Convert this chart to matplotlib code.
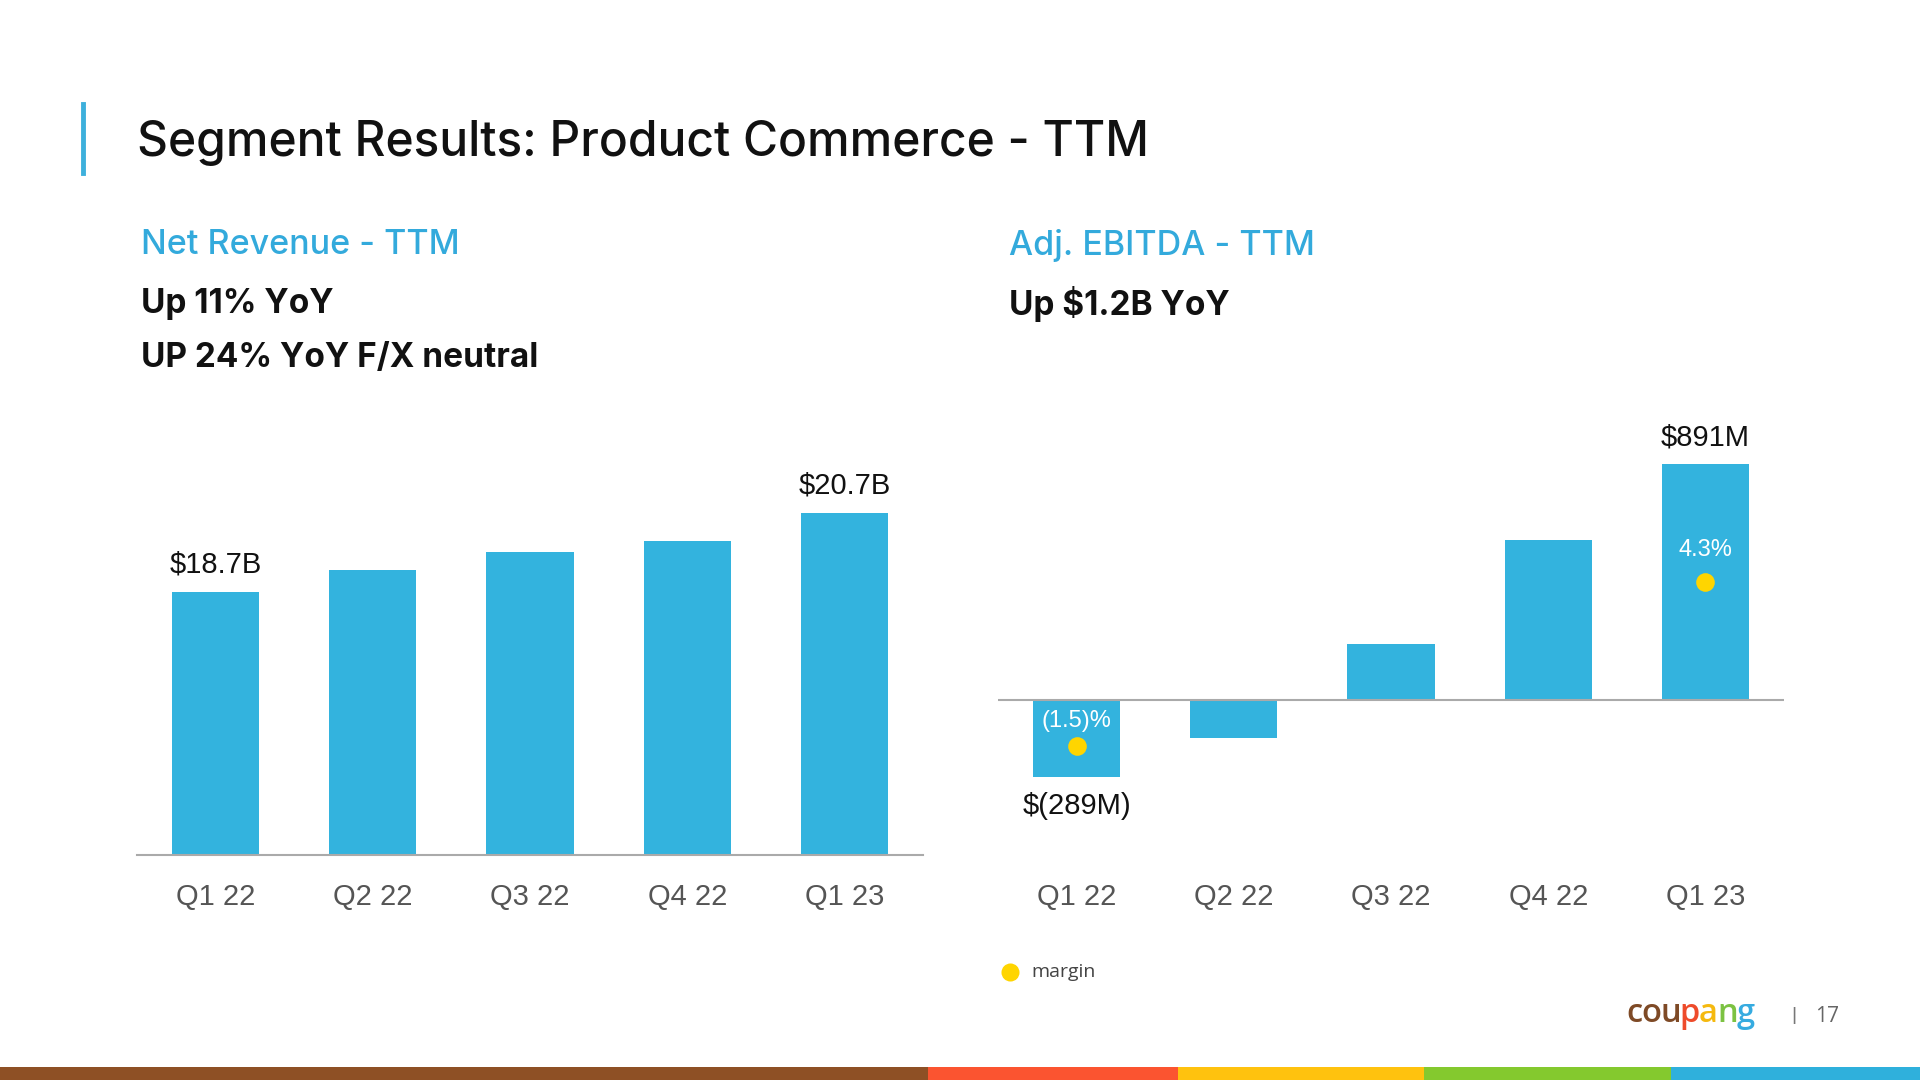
import matplotlib
matplotlib.use("Agg")
import matplotlib.pyplot as plt
from matplotlib.patches import Rectangle

# ---------------- data ----------------
quarters = ["Q1 22", "Q2 22", "Q3 22", "Q4 22", "Q1 23"]
revenue_b = [18.7, 19.25, 19.7, 20.0, 20.7]          # Net revenue TTM, $B
revenue_labels = {0: "$18.7B", 4: "$20.7B"}
ebitda_m = [-289, -145, 212, 605, 891]               # Adj. EBITDA TTM, $M
ebitda_labels = {0: "$(289M)", 4: "$891M"}
margin_pct = {0: -1.5, 4: 4.3}
margin_text = {0: "(1.5)%", 4: "4.3%"}

BAR = "#33B3DE"
DOT = "#FFD500"
W, H = 1920, 1080

fig = plt.figure(figsize=(19.2, 10.8), dpi=100)
fig.patch.set_facecolor("white")

def fx(x): return x / W
def fy(y): return 1 - y / H

HEAD = ["Inter", "DejaVu Sans"]
BODY = ["Liberation Sans", "DejaVu Sans"]

# ---------------- header ----------------
fig.add_artist(plt.Line2D([fx(83), fx(83)], [fy(104), fy(173)], color="#3DB0DC", lw=3.5))
fig.text(fx(137), fy(143), "Segment Results: Product Commerce - TTM", family=HEAD,
         fontsize=34.5, fontweight="medium", color="#111111", va="center", ha="left")

fig.text(fx(141), fy(245), "Net Revenue - TTM", family=HEAD, fontsize=24.5,
         fontweight="medium", color="#33AADC", va="center")
fig.text(fx(141), fy(304), "Up 11% YoY", family=HEAD, fontsize=24,
         fontweight="bold", color="#111111", va="center")
fig.text(fx(141), fy(358), "UP 24% YoY F/X neutral", family=HEAD, fontsize=24,
         fontweight="bold", color="#111111", va="center")

fig.text(fx(1009), fy(245), "Adj. EBITDA - TTM", family=HEAD, fontsize=24.5,
         fontweight="medium", color="#33AADC", va="center")
fig.text(fx(1009), fy(304), "Up $1.2B YoY", family=HEAD, fontsize=24,
         fontweight="bold", color="#111111", va="center")

# ---------------- axes ----------------
ax_top, ax_bot = 400, 855
axL = fig.add_axes([fx(137), fy(ax_bot), fx(923 - 137), (ax_bot - ax_top) / H])
axR = fig.add_axes([fx(998), fy(ax_bot), fx(1784 - 998), (ax_bot - ax_top) / H])

x = list(range(len(quarters)))
bw = 0.555

# left chart
base_l = 12.04
axL.bar(x, [v - base_l for v in revenue_b], bottom=base_l, width=bw, color=BAR, zorder=2)
axL.set_ylim(base_l, 23.56)
axL.set_xlim(-0.5, 4.5)
for i, t in revenue_labels.items():
    axL.annotate(t, (x[i], revenue_b[i]), xytext=(0, 19.5), textcoords="offset points",
                 ha="center", va="center", fontsize=21, family=BODY, color="#111111")

# right chart
axR.bar(x, ebitda_m, width=bw, color=BAR, zorder=2)
axR.set_ylim(-585, 1132)
axR.set_xlim(-0.5, 4.5)
axR.axhline(0, color="#AAAAAA", lw=1.5, zorder=3)
for i, t in ebitda_labels.items():
    off = 19 if ebitda_m[i] >= 0 else -21
    axR.annotate(t, (x[i], ebitda_m[i]), xytext=(0, off), textcoords="offset points",
                 ha="center", va="center", fontsize=21, family=BODY, color="#111111")
for i, m in margin_pct.items():
    frac = 0.5 if m >= 0 else 0.6
    yd = ebitda_m[i] * frac
    axR.scatter([x[i]], [yd], s=180, color=DOT, zorder=4, linewidths=0)
    axR.annotate(margin_text[i], (x[i], yd), xytext=(0, 23 if m >= 0 else 18),
                 textcoords="offset points", ha="center", va="center", fontsize=17,
                 family=BODY, color="white", zorder=5)

for ax in (axL, axR):
    ax.set_facecolor("none")
    for s in ("top", "right", "left"):
        ax.spines[s].set_visible(False)
    ax.set_yticks([])
    ax.set_xticks(x)
    ax.set_xticklabels(quarters, fontsize=21, family=BODY, color="#555555")
    ax.tick_params(axis="x", length=0, pad=20)
axL.spines["bottom"].set_color("#AAAAAA")
axL.spines["bottom"].set_linewidth(1.5)
axR.spines["bottom"].set_visible(False)

# legend
fig.add_artist(plt.Line2D([fx(1010)], [fy(972)], marker="o", markersize=13,
                          color=DOT, markeredgewidth=0, linestyle="none"))
fig.text(fx(1031), fy(972), "margin", fontsize=14, family=["Open Sans", "DejaVu Sans"],
         color="#444444", va="center", ha="left")

# ---------------- footer ----------------
segs = [(0, 928, "#8E5025"), (928, 1178, "#FB5430"), (1178, 1424, "#FFC20E"),
        (1424, 1671, "#84C92E"), (1671, 1920, "#2FB0DC")]
for a, b, c in segs:
    fig.add_artist(Rectangle((fx(a), 0), fx(b - a), 13 / H, transform=fig.transFigure,
                             color=c, lw=0))

logo = [("c", "#7E4A26"), ("o", "#7E4A26"), ("u", "#7E4A26"), ("p", "#EE4B2B"),
        ("a", "#F5B90F"), ("n", "#7CC242"), ("g", "#36ABE0")]
fig.canvas.draw()
r = fig.canvas.get_renderer()
xpos = 1626
for ch, col in logo:
    t = fig.text(fx(xpos), fy(1022), ch, fontsize=23.5, fontweight="semibold",
                 family=["Open Sans", "DejaVu Sans"], color=col, va="baseline", ha="left")
    bb = t.get_window_extent(renderer=r)
    xpos += bb.width - 1.0
fig.text(fx(1794), fy(1016), "|", fontsize=14, color="#777777", va="center", ha="center",
         family=BODY)
fig.text(fx(1827), fy(1016), "17", fontsize=15, color="#666666", va="center", ha="center",
         family=["Open Sans", "DejaVu Sans"])

fig.savefig("out.png", dpi=100, facecolor="white")
